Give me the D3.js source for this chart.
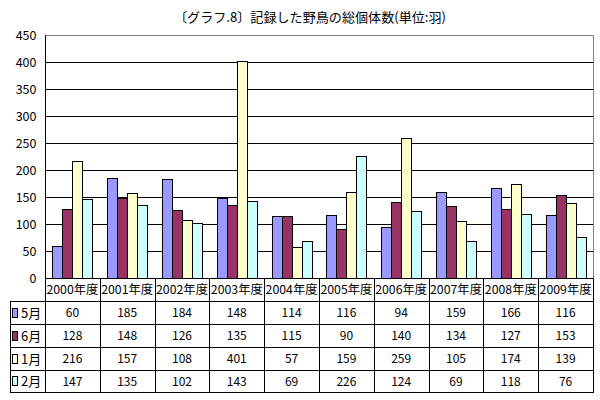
<!DOCTYPE html>
<html><head><meta charset="utf-8">
<script src="https://cdn.jsdelivr.net/npm/d3@7"></script>
<style>
html,body{margin:0;padding:0;background:#fff;}
svg{display:block;font-family:"Noto Sans CJK JP","DejaVu Sans",sans-serif;}
</style></head>
<body><svg id="c" width="600" height="400"></svg>
<script>
const title = "〔グラフ.8〕記録した野鳥の総個体数(単位:羽)";
const categories = ["2000年度","2001年度","2002年度","2003年度","2004年度","2005年度","2006年度","2007年度","2008年度","2009年度"];
const seriesNames = ["5月","6月","1月","2月"];
const seriesColors = ["#9999FF","#993366","#FFFFCC","#CCFFFF"];
const may = [60,185,184,148,114,116,94,159,166,116];
const jun = [128,148,126,135,115,90,140,134,127,153];
const jan = [216,157,108,401,57,159,259,105,174,139];
const feb = [147,135,102,143,69,226,124,69,118,76];
const yTicks = [0,50,100,150,200,250,300,350,400,450];
const seriesValues = [may, jun, jan, feb];

const svg = d3.select("#c");
const L = 45, R = 593, T = 35, B = 278;
const rowLines = [278, 301, 324, 347, 370, 392];
const tableLeft = 10;

const x0 = d3.scaleBand().domain(categories).range([L, R]).paddingInner(0).paddingOuter(0);
const x1 = d3.scaleBand().domain(seriesNames).range([0, x0.bandwidth()]).paddingInner(0).paddingOuter(0.74);
const y = d3.scaleLinear().domain([0, 450]).range([B, T]);

// title
svg.append("text").attr("x", 310).attr("y", 22).attr("text-anchor", "middle")
  .attr("font-size", 13).attr("fill", "#000")
  .attr("textLength", 272).attr("lengthAdjust", "spacingAndGlyphs").text(title);

// gridlines
svg.append("g").selectAll("line").data(yTicks.filter(d => d > 0 && d < 450)).join("line")
  .attr("x1", L).attr("x2", R).attr("y1", d => Math.round(y(d)) + 0.5).attr("y2", d => Math.round(y(d)) + 0.5)
  .attr("stroke", "#000").attr("stroke-width", 1);

// plot border (top & right gray)
svg.append("path").attr("d", `M${L},${T + 0.5}H${R + 0.5}V${B}`).attr("fill", "none").attr("stroke", "#808080");

// bars
const g = svg.append("g");
seriesNames.forEach((s, si) => {
  g.selectAll(null).data(categories).join("rect")
    .attr("x", (c) => Math.round(x0(c) + x1(s)) + 0.5)
    .attr("width", Math.round(x1.bandwidth()))
    .attr("y", (c, i) => Math.round(y(seriesValues[si][i])) + 0.5)
    .attr("height", (c, i) => Math.round(B - y(seriesValues[si][i])))
    .attr("fill", seriesColors[si]).attr("stroke", "#000").attr("stroke-width", 1);
});

// y axis
const yAxis = d3.axisLeft(y).tickValues(yTicks).tickSize(0).tickPadding(9);
const ya = svg.append("g").attr("transform", `translate(${L + 0.5},0)`).call(yAxis);
ya.select(".domain").attr("stroke", "#000").attr("d", `M0,${T}V${B}`);
ya.selectAll("text").attr("font-size", 12.5).attr("fill", "#000").attr("font-family", "\"Noto Sans CJK JP\",sans-serif");

// table lines
const tl = svg.append("g").attr("stroke", "#000").attr("stroke-width", 1);
tl.selectAll(".h").data(rowLines).join("line")
  .attr("x1", (d, i) => i === 0 ? L : tableLeft).attr("x2", R + 1)
  .attr("y1", d => d + 0.5).attr("y2", d => d + 0.5);
const vx = categories.map(c => x0(c)).concat([R]);
tl.selectAll(".v").data(vx).join("line")
  .attr("x1", d => Math.round(d) + 0.5).attr("x2", d => Math.round(d) + 0.5)
  .attr("y1", rowLines[0]).attr("y2", rowLines[rowLines.length - 1] + 1);
tl.append("line").attr("x1", tableLeft + 0.5).attr("x2", tableLeft + 0.5)
  .attr("y1", rowLines[1]).attr("y2", rowLines[rowLines.length - 1] + 1);

// category labels
svg.append("g").selectAll("text").data(categories).join("text")
  .attr("x", c => x0(c) + x0.bandwidth() / 2).attr("y", (rowLines[0] + rowLines[1]) / 2 + 4.5)
  .attr("text-anchor", "middle").attr("font-size", 12).attr("fill", "#000")
  .attr("textLength", 52).attr("lengthAdjust", "spacingAndGlyphs").text(c => c);

// data rows
seriesNames.forEach((s, si) => {
  const yc = (rowLines[si + 1] + rowLines[si + 2]) / 2;
  svg.append("rect").attr("x", 12.5).attr("y", Math.round(yc - 5) + 0.5).attr("width", 5).attr("height", 9)
    .attr("fill", seriesColors[si]).attr("stroke", "#000");
  svg.append("text").attr("x", 21).attr("y", yc + 5).attr("font-size", 13).attr("fill", "#000").text(s);
  svg.append("g").selectAll("text").data(seriesValues[si]).join("text")
    .attr("x", (d, i) => x0(categories[i]) + x0.bandwidth() / 2).attr("y", yc + 4.5)
    .attr("text-anchor", "middle").attr("font-size", 12).attr("fill", "#000").text(d => d);
});
</script></body></html>
